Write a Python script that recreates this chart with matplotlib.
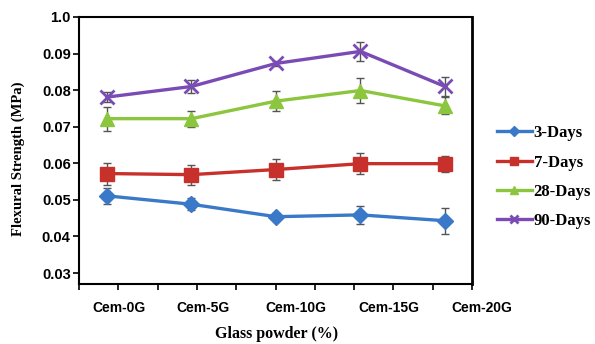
import matplotlib
matplotlib.use("Agg")
import matplotlib.pyplot as plt

categories = ["Cem-0G", "Cem-5G", "Cem-10G", "Cem-15G", "Cem-20G"]

days_3 = [0.0511, 0.0488, 0.0454, 0.0459, 0.0443]
days_7 = [0.0572, 0.0569, 0.0583, 0.0599, 0.0599]
days_28 = [0.0722, 0.0722, 0.0770, 0.0799, 0.0757]
days_90 = [0.0781, 0.0810, 0.0873, 0.0906, 0.0810]

err_3 = [0.0022, 0.0016, 0.0010, 0.0024, 0.0036]
err_7 = [0.0030, 0.0027, 0.0028, 0.0028, 0.0022]
err_28 = [0.0033, 0.0022, 0.0027, 0.0035, 0.0023]
err_90 = [0.0014, 0.0018, 0.0008, 0.0027, 0.0026]

y_ticks = [0.03, 0.04, 0.05, 0.06, 0.07, 0.08, 0.09, 0.1]
y_tick_labels = ["0.03", "0.04", "0.05", "0.06", "0.07", "0.08", "0.09", "1.0"]

serif = ["Liberation Serif", "DejaVu Serif"]
sans = ["Liberation Sans", "DejaVu Sans"]

fig = plt.figure(figsize=(5.95, 3.44), dpi=100)
ax = fig.add_axes([0.1328, 0.1744, 0.6605, 0.7762])

x = list(range(len(categories)))

series = [
    ("3-Days", days_3, err_3, "#3a78c8", "D", 8),
    ("7-Days", days_7, err_7, "#c8302c", "s", 10),
    ("28-Days", days_28, err_28, "#8cc63e", "^", 10),
    ("90-Days", days_90, err_90, "#7a4bb5", "x", 10),
]

for name, vals, err, col, mk, ms in series:
    ax.errorbar(x, vals, yerr=err, fmt="none", ecolor="#555555",
                elinewidth=1, capsize=3, capthick=1, zorder=2)
    ax.plot(x, vals, color=col, marker=mk, markersize=ms, linewidth=2.4,
            markeredgewidth=2 if mk == "x" else 1, label=name, zorder=3)

# odd axis layout of the original figure
ax.set_xlim(-0.331, 4.32)
ax.set_ylim(0.027, 0.1)
ax.set_xticks([-0.331 + 0.4651 * k for k in range(11)])
ax.set_xticklabels([])
ax.tick_params(axis="x", direction="out", length=4, width=1.2)

label_pos = [0.142, 1.136, 2.237, 3.337, 4.438]
for px, lab in zip(label_pos, categories):
    ax.text(px, -0.09, lab, transform=ax.get_xaxis_transform(),
            ha="center", va="center", fontsize=10, fontweight="bold",
            family=sans)

ax.set_yticks(y_ticks)
ax.set_yticklabels(y_tick_labels, fontsize=10.5, fontweight="bold", family=sans)
ax.tick_params(axis="y", direction="out", length=4, width=1.2, pad=2)

for s in ax.spines.values():
    s.set_linewidth(1.5)
    s.set_color("black")
ax.spines["right"].set_linewidth(2)

ax.set_ylabel("Flexural Strength (MPa)", fontsize=10.5, fontweight="bold",
              family=serif)
ax.yaxis.set_label_coords(-0.137, 0.47)
fig.text(0.464, 0.03, "Glass powder (%)", ha="center", va="center",
         fontsize=11.5, fontweight="bold", family=serif)

leg = ax.legend(loc="center left", bbox_to_anchor=(1.025, 0.40), frameon=False,
                prop={"family": serif, "weight": "bold", "size": 12},
                handlelength=2.1, handletextpad=0.1, labelspacing=0.8,
                markerscale=0.6)

fig.savefig("out.png", dpi=100)
